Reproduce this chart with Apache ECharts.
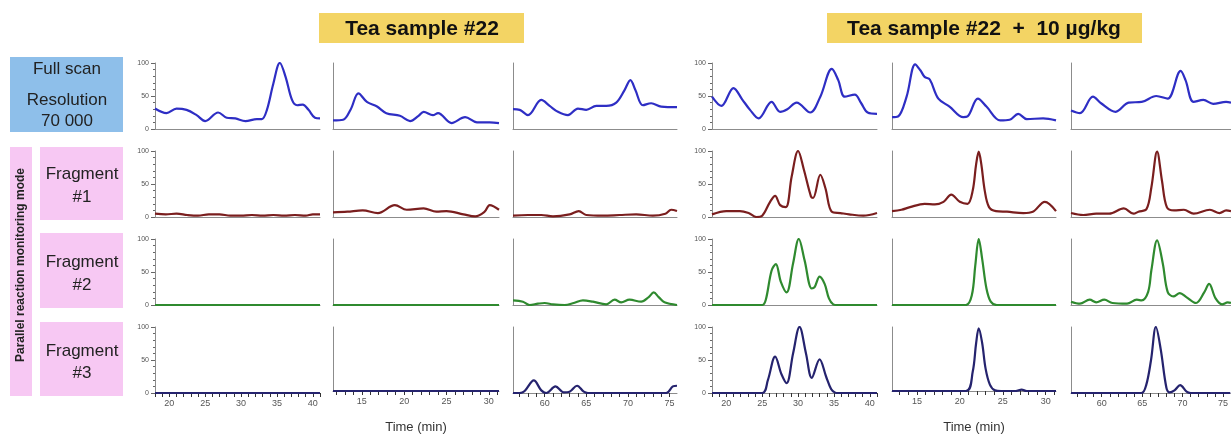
<!DOCTYPE html>
<html>
<head>
<meta charset="utf-8">
<script src="https://cdn.jsdelivr.net/npm/echarts@6/dist/echarts.min.js"></script>
<style>
html, body { margin: 0; padding: 0; background: #fff; }
#chart { width: 1231px; height: 435px; }
</style>
</head>
<body>
<div id="chart"></div>
<script>
// 时间轴范围 (min) 和刻度标签
const colRanges = [[18, 41], [11.6, 31.2], [56.2, 75.9], [18, 41], [12.1, 31.2], [56.2, 75.9]]
const colLabels = [[20, 25, 30, 35, 40], [15, 20, 25, 30], [60, 65, 70, 75], [20, 25, 30, 35, 40], [15, 20, 25, 30], [60, 65, 70, 75]]
const yLabels = [0, 50, 100]

// Full scan
const fs1 = [[18,31],[19.6,24],[21,31],[22.4,29],[23.8,21],[25,12],[26.8,25],[28,17],[29.2,16],[30.6,12],[32.2,15],[32.9,15],[33.6,29],[34.5,69],[35.4,100],[36.2,79],[37.1,44],[37.8,36],[38.6,37],[39.4,29],[40.3,17],[41,16]]
const fs2 = [[11.6,13],[12.8,14],[13.7,30],[14.6,54],[15.6,41],[16.8,34],[17.9,24],[19.5,20],[20.7,12],[21.7,20],[22.3,26],[23.4,21],[24,24],[25.6,9],[27.2,18],[28.6,10],[30.1,10],[31.2,9]]
const fs3 = [[56.2,30],[57,29],[58,21],[59.6,44],[60.6,35],[61.6,26],[62.8,21],[64,31],[65,29],[66.2,35],[67.4,35],[68.6,40],[69.6,59],[70.3,74],[70.9,59],[71.8,36],[72.8,39],[74,34],[75.9,33]]
const fs4 = [[18,49],[19.3,35],[21,62],[22.2,45],[23.3,29],[24.5,16],[26.3,41],[27.5,26],[28.5,30],[29.8,40],[31.7,25],[33.1,49],[34.7,91],[35.6,74],[36.5,49],[37.9,52],[38.8,39],[39.7,25],[41,23]]
const fs5 = [[12.1,18],[12.8,19],[13.8,49],[14.8,98],[15.4,89],[15.9,79],[16.5,75],[17.5,46],[18.8,34],[20.4,18],[20.9,19],[22.1,46],[23.1,34],[24.7,13],[25.8,14],[26.8,23],[27.8,15],[29.7,16],[31.2,13]]
const fs6 = [[56.2,28],[57.3,24],[58.9,49],[59.9,39],[61.7,26],[63.3,40],[64.9,41],[66.7,50],[68.1,46],[69.7,88],[70.3,74],[71.3,41],[72.5,44],[73.7,38],[75.3,41],[75.9,40]]

// Fragment #1
const f1a = [[18,5],[19.5,4],[21,5],[22.5,3],[24,2],[25.5,4],[27,4],[28.5,2],[30,2],[31.5,3],[33,2],[34.5,3],[36,2],[37.5,3],[39,2],[40,4],[41,4]]
const f1b = [[11.6,7],[13.3,8],[15.1,10],[16.9,6],[18.9,18],[20.3,11],[22.3,13],[23.8,8],[25,9],[27,4],[28.4,1],[29.5,8],[30.1,18],[31.2,11]]
const f1c = [[56.2,2],[58,3],[59.6,3],[61,1],[63,4],[64.1,9],[65,3],[67,2],[69,3],[71,4],[73,2],[74.5,5],[75.2,11],[75.9,9]]
const f1d = [[18,4],[20,9],[21.9,9],[23.1,6],[24.2,0],[25,2],[26.1,23],[26.8,32],[27.5,18],[28.3,15],[29.1,61],[30,100],[30.8,72],[31.8,31],[32.1,29],[33.1,64],[33.8,44],[34.7,8],[35.9,6],[37.1,4],[39.1,2],[41,6]]
const f1e = [[12.1,9],[13.2,11],[14.2,15],[15.9,20],[17.1,19],[18.1,23],[19,34],[20,23],[20.9,20],[21.5,40],[21.9,80],[22.2,99],[22.5,80],[22.9,40],[23.4,15],[24.2,9],[25.5,8],[27.4,6],[28.5,8],[29.9,23],[31.2,9]]
const f1f = [[56.2,6],[57.7,3],[59.3,5],[60.9,5],[62.7,13],[63.9,5],[64.5,8],[65.5,12],[66.1,45],[66.8,99],[67.4,55],[68,15],[68.9,10],[70.1,11],[71.3,5],[73.3,11],[74.5,6],[75.3,10],[75.9,9]]

// Fragment #2
const f2a = [[18,0],[41,0]]
const f2b = [[11.6,0],[31.2,0]]
const f2c = [[56.2,7],[57.4,5],[58.2,0],[59.2,2],[60,3],[61,1],[62.4,0],[63.5,3],[64.6,7],[65.8,5],[67.4,1],[68.4,8],[69.2,4],[70.2,8],[71.6,5],[72.5,12],[73.1,19],[73.7,12],[74.4,4],[75.9,0]]
const f2d = [[18,0],[25,0],[25.5,8],[26.3,52],[26.9,62],[27.6,35],[28.4,19],[29.3,63],[30.1,100],[30.9,68],[31.9,25],[32.3,27],[33,43],[33.7,32],[34.3,10],[34.9,1],[35.5,0],[41,0]]
const f2e = [[12.1,0],[20.7,0],[21.4,15],[21.8,60],[22.2,100],[22.6,70],[23.1,25],[23.6,5],[24.3,0],[31.2,0]]
const f2f = [[56.2,5],[57.3,2],[58.5,8],[59.3,4],[60.3,8],[61.3,3],[63.1,2],[64.3,8],[64.9,7],[65.7,20],[66.1,53],[66.8,98],[67.5,63],[68.1,20],[68.8,13],[69.6,18],[70.4,12],[71.6,3],[72.6,19],[73.2,32],[74,10],[74.8,1],[75.5,4],[75.9,3]]

// Fragment #3
const f3a = [[18,0],[41,0]]
const f3b = [[11.6,0],[31.2,0]]
const f3c = [[56.2,0],[57,0],[57.6,3],[58.7,19],[59.6,4],[60.2,0],[61.3,10],[62.3,1],[63,2],[63.9,11],[64.7,2],[65.2,0],[74.6,0],[75.4,10],[75.9,11]]
const f3d = [[18,0],[25,0],[25.8,20],[26.8,55],[27.7,28],[28.4,15],[29.3,60],[30.2,100],[31.1,60],[31.9,23],[33,51],[33.9,25],[34.6,6],[35.1,1],[35.6,0],[41,0]]
const f3e = [[12.1,0],[20.7,0],[21.5,30],[21.9,75],[22.2,98],[22.6,75],[23,35],[23.5,10],[24.1,1],[24.8,0],[26.5,0],[27.2,2],[27.8,0],[31.2,0]]
const f3f = [[56.2,0],[64.9,0],[65.5,12],[66.1,50],[66.7,100],[67.3,66],[68,8],[68.4,1],[69,4],[69.7,12],[70.5,2],[71,0],[75.9,0]]

const rowsData = [
	[fs1, fs2, fs3, fs4, fs5, fs6],
	[f1a, f1b, f1c, f1d, f1e, f1f],
	[f2a, f2b, f2c, f2d, f2e, f2f],
	[f3a, f3b, f3c, f3d, f3e, f3f]
]
const rowColors = ['#2e2ec4', '#7a1e1e', '#2f8a2f', '#25236e']

// 布局
const colLeft = [155, 333, 513, 712, 892, 1071]
const colWidth = [165, 166, 164, 165, 164, 164]
const rowTop = [63, 151, 239, 327]
const rowHeight = 66

var myChart = echarts.init(document.getElementById('chart'), null, { renderer: 'canvas' })

let grids = [], xAxes = [], yAxes = [], series = []
for (let r = 0; r < 4; r++) {
	for (let c = 0; c < 6; c++) {
		let i = grids.length
		let bottomRow = r === 3
		let showY = c === 0 || c === 3
		// 每分钟一个刻度
		let minuteTicks = []
		for (let t = Math.ceil(colRanges[c][0]); t <= colRanges[c][1]; t++) minuteTicks.push(t)
		grids.push({ left: colLeft[c], top: rowTop[r], width: colWidth[c], height: rowHeight })
		xAxes.push({
			type: 'value',
			gridIndex: i,
			min: colRanges[c][0],
			max: colRanges[c][1],
			axisLine: { show: true, onZero: false, lineStyle: { color: '#8c8c8c', width: 1 } },
			axisTick: bottomRow ? { show: true, customValues: minuteTicks, length: 4, lineStyle: { color: '#333' } } : { show: false },
			axisLabel: bottomRow ? { show: true, customValues: colLabels[c], fontSize: 9, color: '#555', margin: 6 } : { show: false },
			splitLine: { show: false },
			name: bottomRow && (c === 1 || c === 4) ? 'Time (min)' : '',
			nameLocation: 'middle',
			nameGap: 30,
			nameTextStyle: { fontSize: 13, color: '#333' }
		})
		yAxes.push({
			type: 'value',
			gridIndex: i,
			min: 0,
			max: 100,
			interval: 50,
			axisLine: { show: true, onZero: false, lineStyle: { color: '#8c8c8c', width: 1 } },
			axisTick: { show: showY, length: 4, lineStyle: { color: '#666' } },
			minorTick: { show: showY, splitNumber: 5, length: 2, lineStyle: { color: '#666' } },
			axisLabel: { show: showY, customValues: yLabels, fontSize: 7, color: '#555', margin: 6 },
			splitLine: { show: false },
			minorSplitLine: { show: false }
		})
		series.push({
			type: 'line',
			xAxisIndex: i,
			yAxisIndex: i,
			data: rowsData[r][c],
			smooth: 0.35,
			showSymbol: false,
			lineStyle: { color: rowColors[r], width: 2.2 },
			z: 5
		})
	}
}

const boxFont = '17px "Liberation Sans", Arial, sans-serif'
const titleFont = 'bold 21px "Liberation Sans", Arial, sans-serif'
function textEl(str, x, y, font, color) {
	return { type: 'text', x: x, y: y, style: { text: str, x: 0, y: 0, font: font, fill: color || '#222', textAlign: 'center', textVerticalAlign: 'middle' } }
}

let graphics = [
	// 标题
	{ type: 'rect', shape: { x: 319, y: 13, width: 205, height: 30 }, style: { fill: '#f3d464' } },
	textEl('Tea sample #22', 422, 29, titleFont, '#111'),
	{ type: 'rect', shape: { x: 827, y: 13, width: 315, height: 30 }, style: { fill: '#f3d464' } },
	textEl('Tea sample #22  +  10 µg/kg', 984, 29, titleFont, '#111'),
	// 左侧标签
	{ type: 'rect', shape: { x: 10, y: 57, width: 113, height: 75 }, style: { fill: '#8ebfea' } },
	textEl('Full scan', 67, 69, boxFont),
	textEl('Resolution', 67, 100, boxFont),
	textEl('70 000', 67, 121, boxFont),
	{ type: 'rect', shape: { x: 10, y: 147, width: 22, height: 249 }, style: { fill: '#f7c8f3' } },
	{ type: 'text', x: 21, y: 265, rotation: Math.PI / 2, style: { text: 'Parallel reaction monitoring mode', x: 0, y: 0, font: 'bold 12px "Liberation Sans", Arial, sans-serif', fill: '#222', textAlign: 'center', textVerticalAlign: 'middle' } },
	{ type: 'rect', shape: { x: 40, y: 147, width: 83, height: 73 }, style: { fill: '#f7c8f3' } },
	textEl('Fragment', 82, 174, boxFont),
	textEl('#1', 82, 197, boxFont),
	{ type: 'rect', shape: { x: 40, y: 233, width: 83, height: 75 }, style: { fill: '#f7c8f3' } },
	textEl('Fragment', 82, 262, boxFont),
	textEl('#2', 82, 285, boxFont),
	{ type: 'rect', shape: { x: 40, y: 322, width: 83, height: 74 }, style: { fill: '#f7c8f3' } },
	textEl('Fragment', 82, 351, boxFont),
	textEl('#3', 82, 373, boxFont)
]

option = {
	animation: false,
	backgroundColor: '#fff',
	textStyle: { fontFamily: '"Liberation Sans", Arial, sans-serif' },
	grid: grids,
	xAxis: xAxes,
	yAxis: yAxes,
	series: series,
	graphic: graphics
}

myChart.setOption(option)
</script>
</body>
</html>
